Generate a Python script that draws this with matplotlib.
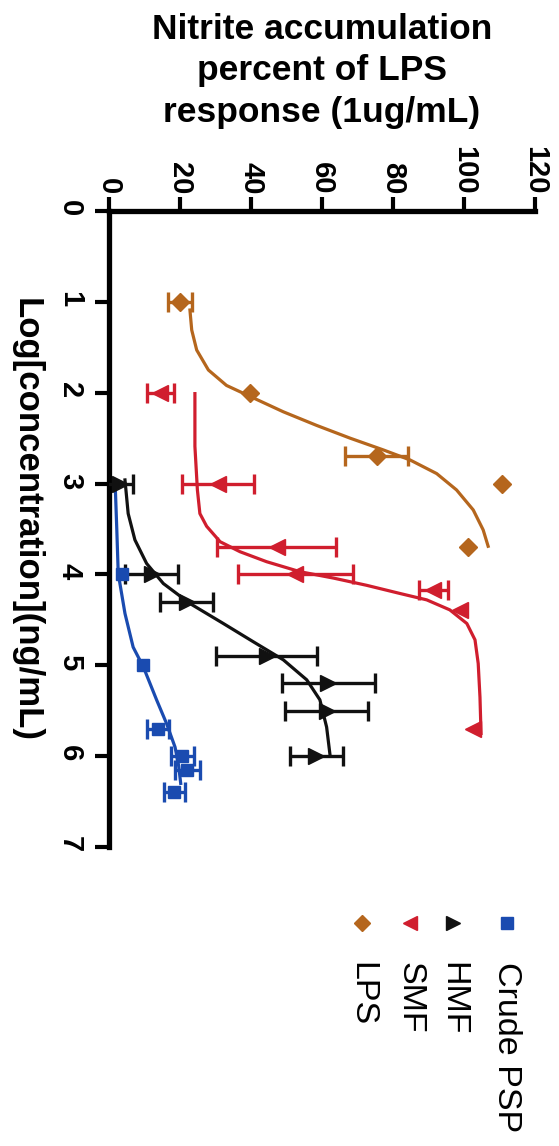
import numpy as np
import matplotlib
matplotlib.use("Agg")
import matplotlib.pyplot as plt
from matplotlib.lines import Line2D

plt.rcParams['font.family'] = ['Liberation Sans', 'DejaVu Sans']

# colours
col_lps = '#B5661D'
col_smf = '#D01E2E'
col_hmf = '#111111'
col_psp = '#1A4BB0'

# measured points: log concentration, percent, error (0 = no visible bar)
lps_c = [1.0, 2.0, 2.7, 3.0, 3.7]
lps_p = [20.0, 39.7, 75.4, 110.6, 101.2]
lps_e = [3.4, 0, 8.9, 0, 0]

smf_c = [2.0, 3.0, 3.7, 4.0, 4.17, 4.39, 5.7]
smf_p = [14.4, 30.8, 47.2, 52.4, 91.4, 98.9, 102.6]
smf_e = [3.8, 10.1, 16.7, 16.2, 4.0, 0, 0]

hmf_c = [3.0, 4.0, 4.3, 4.9, 5.2, 5.5, 6.0]
hmf_p = [3.1, 12.0, 21.9, 44.4, 61.8, 61.3, 58.4]
hmf_e = [3.8, 7.5, 7.5, 14.2, 13.1, 11.7, 7.4]

psp_c = [4.0, 5.0, 5.7, 6.0, 6.15, 6.4]
psp_p = [3.6, 9.6, 13.9, 20.7, 22.1, 18.4]
psp_e = [0, 0, 3.1, 3.3, 3.6, 3.0]

# fitted curves
lps_fit_c = [1.09, 1.31, 1.53, 1.75, 1.92, 2.04, 2.21, 2.36, 2.5, 2.63, 2.74,
             2.89, 3.07, 3.29, 3.51, 3.69]
lps_fit_p = [22.8, 23.3, 24.7, 28.0, 33.1, 39.7, 49.1, 58.5, 67.9, 77.3, 84.8,
             92.3, 97.9, 102.6, 105.4, 106.8]

smf_fit_c = [2.01, 2.59, 3.07, 3.33, 3.47, 3.64, 3.75, 3.86, 3.97, 4.04, 4.12,
             4.21, 4.28, 4.39, 4.54, 4.72, 4.98, 5.35, 5.75]
smf_fit_p = [24.2, 24.2, 24.9, 25.6, 27.5, 31.3, 36.9, 44.4, 53.8, 63.2, 72.6,
             82.0, 89.5, 96.0, 100.8, 103.1, 104.0, 104.5, 104.8]

hmf_fit_c = [2.96, 3.33, 3.62, 3.88, 4.1, 4.32, 4.54, 4.74, 4.94, 5.16, 5.38,
             5.68, 6.0]
hmf_fit_p = [4.5, 5.4, 7.3, 10.6, 15.3, 22.8, 32.2, 40.6, 49.1, 55.7, 59.4,
             61.3, 62.3]

psp_fit_c = [2.96, 3.51, 3.99, 4.43, 4.8, 5.02, 5.38, 5.64, 5.9, 6.1, 6.3]
psp_fit_p = [1.7, 2.2, 2.6, 4.5, 6.8, 9.7, 13.4, 16.2, 18.6, 19.6, 20.2]

pct_ticks = [0, 20, 40, 60, 80, 100, 120]
conc_ticks = [0, 1, 2, 3, 4, 5, 6, 7]

legend_names = ['Crude PSP', 'HMF', 'SMF', 'LPS']

fig = plt.figure(figsize=(5.59, 11.46), dpi=100)
ax = fig.add_axes([109 / 559, 1 - 847 / 1146, 426 / 559, 636 / 1146])

series = [
    (lps_c, lps_p, lps_e, lps_fit_c, lps_fit_p, col_lps, 'D', 9),
    (smf_c, smf_p, smf_e, smf_fit_c, smf_fit_p, col_smf, '<', 11),
    (hmf_c, hmf_p, hmf_e, hmf_fit_c, hmf_fit_p, col_hmf, '>', 11),
    (psp_c, psp_p, psp_e, psp_fit_c, psp_fit_p, col_psp, 's', 9),
]

for c, p, e, fc, fp, col, mk, ms in series:
    c = np.array(c); p = np.array(p); e = np.array(e)
    ax.plot(fp, fc, color=col, lw=2.3, zorder=2, solid_joinstyle='round')
    has = e > 0
    ax.errorbar(p[has], c[has], xerr=e[has], fmt='none', ecolor=col,
                elinewidth=2.4, capsize=7, capthick=2.4, zorder=3)
    ax.plot(p, c, ls='none', marker=mk, color=col, ms=ms, mec=col, zorder=4)

ax.set_xlim(0, 120)
ax.set_ylim(7, 0)
ax.spines['right'].set_visible(False)
ax.spines['bottom'].set_visible(False)
ax.spines['top'].set_linewidth(3.8)
ax.spines['left'].set_linewidth(3.8)
ax.spines['top'].set_capstyle('projecting')
ax.spines['left'].set_capstyle('projecting')
ax.xaxis.tick_top()
ax.set_xticks(pct_ticks)
ax.set_yticks(conc_ticks)
ax.tick_params(axis='both', direction='out', width=3, length=10, labelsize=21)
ax.tick_params(axis='x', pad=2)
ax.tick_params(axis='y', pad=8)
for lab in ax.get_xticklabels() + ax.get_yticklabels():
    lab.set_rotation(-90)
    lab.set_fontweight('bold')

ax.set_ylabel('Log[concentration](ng/mL)', rotation=-90, fontsize=25,
              fontweight='bold', va='center', ha='center')
ax.yaxis.set_label_coords(-0.195, 0.514)

fig.text(322 / 559, 1 - 13 / 1146,
         'Nitrite accumulation\npercent of LPS\nresponse (1ug/mL)',
         ha='center', va='top', fontsize=25.5, fontweight='bold', linespacing=1.32)

# legend drawn sideways, like the rest of the chart
leg_x = [507, 453, 410, 362]
leg_cols = [col_psp, col_hmf, col_smf, col_lps]
leg_mk = ['s', '>', '<', 'D']
leg_ms = [9, 10, 10, 8]
for x, name, col, mk, ms in zip(leg_x, legend_names, leg_cols, leg_mk, leg_ms):
    fig.add_artist(Line2D([x / 559], [1 - 923 / 1146], marker=mk, color=col,
                          ms=ms, ls='none', transform=fig.transFigure))
    fig.text(x / 559, 1 - 962 / 1146, name, rotation=-90, ha='center', va='top',
             fontsize=24.5)

fig.savefig('out.png', dpi=100)
